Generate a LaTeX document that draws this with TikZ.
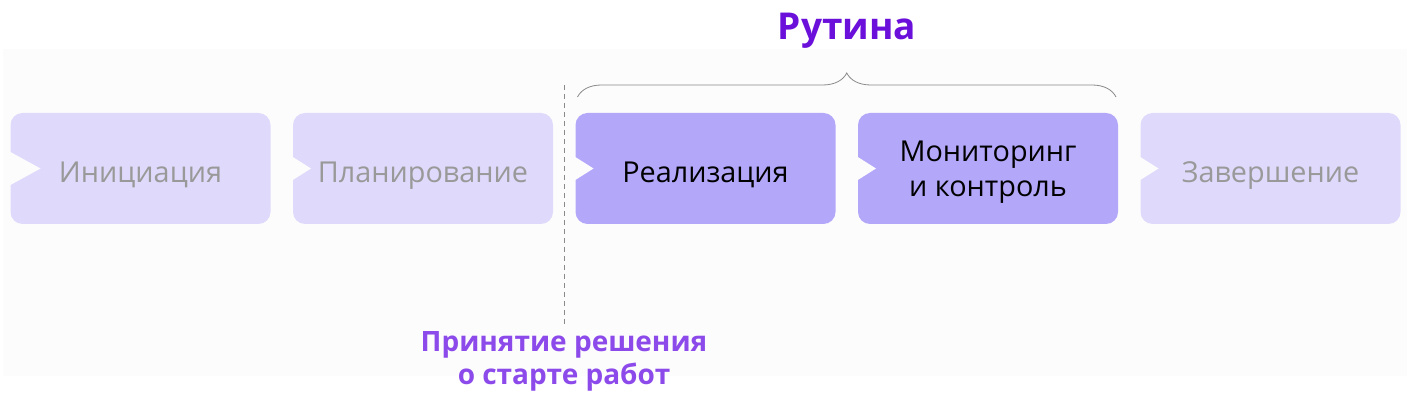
\documentclass[tikz,border=0pt]{standalone}
\usepackage{fontspec}
\setmainfont{Open Sans}
\usetikzlibrary{positioning,decorations.pathreplacing}
\definecolor{panel}{HTML}{FCFCFC}
\definecolor{lightph}{HTML}{DFDAFB}
\definecolor{darkph}{HTML}{B3A7FA}
\definecolor{greytext}{HTML}{999999}
\definecolor{routine}{HTML}{6A10DA}
\definecolor{decide}{HTML}{8C4AEB}
\definecolor{guideline}{HTML}{8A8A8A}
\tikzset{
  centered/.style = { align=center, anchor=center },
     phase/.style = { centered, rounded corners=6pt, minimum width=130pt, minimum height=55.5pt,
                      inner sep=0pt, outer sep=0pt, text height=14.5pt, text depth=0pt,
                      font=\fontsize{14.4}{17.5}\selectfont },
   passive/.style = { phase, fill=lightph, text=greytext },
    active/.style = { phase, fill=darkph, text=black },
  bracket/.style = { thin, color=guideline, decorate, decoration={brace, amplitude=12pt} },
   divider/.style = { thin, color=guideline, dash pattern=on 2.5pt off 2pt }
}
\begin{document}
\begin{tikzpicture}[x=0.5pt,y=-0.5pt]
  \useasboundingbox (0,0) rectangle (1409,400);
  \fill[panel] (3,49) rectangle (1407,376);

  \node[passive] (init) at (140.5,168.5) {Инициация};
  \node[passive, right=11.25pt of init] (plan) {Планирование};
  \node[active,  right=11.25pt of plan] (real) {Реализация};
  \node[active,  right=11.25pt of real, text height=, text depth=-2pt] (mon) {Мониторинг\\и контроль};
  \node[passive, right=11.25pt of mon]  (fin)  {Завершение};

  % notches on the left side
  \foreach \n/\d/\h in {init/15/8.5, plan/9/6, real/9/6, mon/9/6, fin/9/6} {
    \fill[panel] ([shift={(-0.5pt,\h pt)}]\n.west) -- ([xshift=\d pt]\n.west)
      -- ([shift={(-0.5pt,-\h pt)}]\n.west) -- cycle;
  }

  \draw[bracket] ([shift={(1pt,8pt)}]real.north west) -- ([shift={(-1pt,8pt)}]mon.north east);
  \node[font=\bfseries\fontsize{18.5}{22}\selectfont, text=routine] (title) at (847,31) {Рутина};

  \node[centered, font=\bfseries\fontsize{14}{16.5}\selectfont, text=decide] (decision) at (564,361)
    {Принятие решения\\о старте работ};
  \coordinate (cut) at (564,85);
  \draw[divider] (cut) -- (decision.north);
\end{tikzpicture}
\end{document}
